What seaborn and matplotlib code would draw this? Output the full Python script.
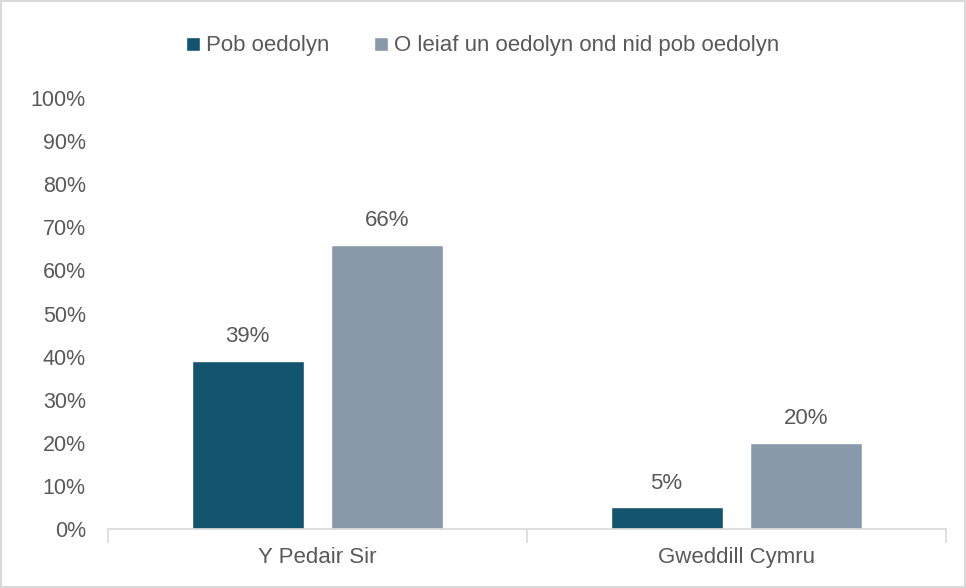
import matplotlib
matplotlib.use("Agg")
import matplotlib.pyplot as plt
import seaborn as sns
import pandas as pd

categories = ["Y Pedair Sir", "Gweddill Cymru"]
series_names = ["Pob oedolyn", "O leiaf un oedolyn ond nid pob oedolyn"]
pob_oedolyn = [39, 5]
o_leiaf_un = [66, 20]
y_ticks = [0, 10, 20, 30, 40, 50, 60, 70, 80, 90, 100]

df = pd.DataFrame({
    "cat": categories * 2,
    "series": [series_names[0]] * 2 + [series_names[1]] * 2,
    "val": pob_oedolyn + o_leiaf_un,
})

sns.set_theme(style="white")
plt.rcParams["font.family"] = ["Liberation Sans", "DejaVu Sans"]
txt = "#595959"
fs = 16

fig = plt.figure(figsize=(9.66, 5.88), dpi=100)
fig.patch.set_edgecolor("#D9D9D9")
fig.patch.set_linewidth(1.5)
ax = fig.add_axes([108/966, 1-529/588, (946-108)/966, (529-98)/588])

palette = {series_names[0]: "#13546F", series_names[1]: "#8899AA"}
sns.barplot(data=df, x="cat", y="val", hue="series", order=categories,
            hue_order=series_names, palette=palette, width=0.668, gap=0.2,
            saturation=1, ax=ax, legend=True)

ax.set_ylim(0, 100)
ax.set_xlim(-0.5, 1.5)
ax.set_yticks(y_ticks)
ax.set_yticklabels([f"{t}%" for t in y_ticks])
ax.set_xlabel("")
ax.set_ylabel("")
for s in ["top", "right", "left"]:
    ax.spines[s].set_visible(False)
ax.spines["bottom"].set_color("#D9D9D9")
ax.spines["bottom"].set_linewidth(1.2)
ax.tick_params(axis="y", length=0, labelsize=15.5, labelcolor=txt, pad=16)
ax.tick_params(axis="x", which="major", length=0, labelsize=fs, labelcolor=txt, pad=13)
ax.set_xticks([-0.5, 0.5, 1.5], minor=True)
ax.tick_params(axis="x", which="minor", bottom=True, length=10, color="#D9D9D9", width=1.2)

for cont in ax.containers:
    labels = [f"{v:.0f}%" for v in cont.datavalues]
    ax.bar_label(cont, labels=labels, padding=10, fontsize=fs, color=txt)

handles, labs = ax.get_legend_handles_labels()
ax.legend(handles, labs, loc="center", bbox_to_anchor=(0.5, (588-46)/588),
          bbox_transform=fig.transFigure, ncol=2, frameon=False, fontsize=fs,
          labelcolor=txt, handlelength=0.6, handleheight=0.6, handletextpad=0.3,
          columnspacing=2.0)

fig.savefig("out.png", dpi=100)
